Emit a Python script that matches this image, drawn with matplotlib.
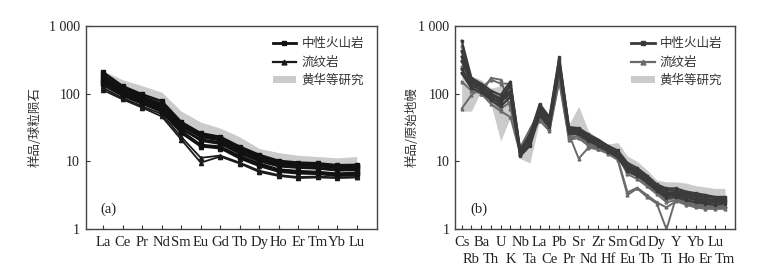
import numpy as np
import matplotlib.pyplot as plt
from matplotlib.lines import Line2D
from matplotlib.patches import Patch
from matplotlib.ticker import FixedLocator, FixedFormatter, NullLocator

# ---- data ----
ree = ['La', 'Ce', 'Pr', 'Nd', 'Sm', 'Eu', 'Gd', 'Tb', 'Dy', 'Ho', 'Er', 'Tm', 'Yb', 'Lu']

# chondrite normalised REE, intermediate volcanics
ree_inter = [
    [205, 128, 97, 77, 38, 26, 23, 16.5, 12.5, 10.2, 9.6, 9.4, 8.8, 8.9],
    [185, 120, 90, 70, 35, 24.5, 22, 15.5, 11.8, 9.8, 9.2, 9.0, 8.4, 8.5],
    [170, 112, 84, 66, 33, 23, 20.5, 14.5, 11.2, 9.3, 8.8, 8.6, 8.0, 8.1],
    [160, 105, 80, 62, 30, 21, 19, 13.5, 10.5, 8.8, 8.3, 8.0, 7.5, 7.6],
    [150, 100, 75, 57, 28, 17.5, 16.5, 12, 9.3, 7.6, 7.2, 7.0, 6.6, 6.8],
    [140, 95, 72, 54, 27, 17, 16, 11.5, 8.9, 7.3, 6.9, 6.7, 6.3, 6.5],
]
# rhyolites
ree_rhy = [
    [130, 92, 70, 55, 26, 16.5, 15.5, 11, 8.5, 7.0, 6.6, 6.5, 6.1, 6.2],
    [120, 86, 65, 50, 23, 11.3, 12.2, 9.6, 7.3, 6.3, 5.9, 6.0, 5.8, 5.9],
    [112, 82, 62, 46, 21, 9.6, 11.8, 9.3, 7.0, 6.1, 5.7, 5.8, 5.7, 5.8],
    [145, 98, 76, 60, 31, 20, 18, 13, 10, 8.4, 8.0, 7.8, 7.3, 7.4],
]
# range of Huang Hua et al.
ree_band_hi = [215, 160, 130, 105, 55, 38, 31, 23, 15.5, 13.5, 12.3, 11.8, 11.3, 11.8]
ree_band_lo = [160, 110, 85, 68, 33, 23, 20, 14.5, 11, 9.2, 8.8, 8.6, 8.0, 8.2]

trace = ['Cs', 'Rb', 'Ba', 'Th', 'U', 'K', 'Nb', 'Ta', 'La', 'Ce', 'Pb', 'Pr', 'Sr', 'Nd',
         'Zr', 'Hf', 'Sm', 'Eu', 'Gd', 'Tb', 'Dy', 'Ti', 'Y', 'Ho', 'Yb', 'Er', 'Lu', 'Tm']

# primitive mantle normalised trace elements
tr_inter = [
    [600, 170, 140, 110, 95, 150, 14, 25, 70, 45, 340, 32, 31, 25, 21, 17, 14.5, 9.5, 8.0, 6.2, 4.6, 4.0, 4.0, 3.6, 3.4, 3.2, 3.0, 3.0],
    [420, 150, 130, 100, 85, 130, 13, 22, 62, 40, 300, 30, 29, 23, 20, 16, 13.5, 8.8, 7.5, 5.8, 4.3, 3.8, 3.7, 3.4, 3.2, 3.0, 2.9, 2.9],
    [300, 140, 125, 95, 80, 110, 13.5, 20, 58, 38, 280, 28, 28, 22, 19, 15.5, 13, 8.3, 7.0, 5.5, 4.1, 3.5, 3.5, 3.2, 3.0, 2.8, 2.7, 2.7],
    [230, 130, 115, 85, 75, 100, 12.5, 18, 52, 35, 250, 27, 26, 21, 18, 14.5, 12, 7.8, 6.6, 5.2, 3.9, 3.3, 3.3, 3.0, 2.8, 2.7, 2.6, 2.6],
    [350, 160, 135, 90, 70, 140, 15, 24, 66, 42, 320, 31, 30, 24, 20, 15.5, 12.5, 8.0, 6.8, 5.3, 3.9, 3.1, 3.2, 2.9, 2.7, 2.5, 2.5, 2.5],
    [200, 120, 105, 80, 65, 90, 12, 17, 48, 32, 220, 26, 25, 20, 17, 14, 11.5, 7.2, 6.2, 4.9, 3.7, 2.9, 3.0, 2.7, 2.5, 2.4, 2.3, 2.4],
]
tr_rhy = [
    [150, 110, 100, 170, 160, 60, 16, 30, 55, 35, 180, 25, 11, 16, 15, 13, 10.5, 3.2, 4.0, 3.0, 2.4, 1.0, 3.0, 2.4, 2.2, 2.1, 2.1, 2.1],
    [60, 95, 120, 160, 140, 140, 14, 28, 45, 30, 160, 22, 24, 18, 16, 14, 11, 3.5, 4.1, 3.2, 2.5, 2.1, 2.6, 2.3, 2.1, 2.0, 2.0, 2.0],
    [250, 120, 100, 70, 55, 45, 13, 24, 40, 28, 150, 21, 22, 17, 15.5, 13.5, 12, 6.5, 5.5, 4.3, 3.3, 2.5, 2.7, 2.5, 2.3, 2.2, 2.2, 2.2],
    [500, 150, 110, 80, 60, 75, 13, 26, 48, 30, 200, 23, 27, 19, 17, 14.5, 12.5, 7.0, 6.0, 4.6, 3.5, 2.7, 2.9, 2.6, 2.4, 2.3, 2.2, 2.2],
]
tr_band_hi = [350, 180, 160, 120, 130, 140, 16, 20, 65, 45, 250, 35, 65, 28, 22, 18, 19, 12, 10, 7.5, 5.3, 5.0, 5.0, 4.8, 4.4, 4.2, 4.0, 4.0]
tr_band_lo = [55, 55, 110, 70, 20, 45, 11, 9.5, 40, 30, 140, 22, 22, 18, 15, 13, 12, 7.5, 6.5, 5.0, 3.6, 3.0, 3.0, 2.8, 2.6, 2.5, 2.4, 2.4]

legend_names = ['中性火山岩', '流纹岩', '黄华等研究']
ytick_vals = [1, 10, 100, 1000]
ytick_text = ['1', '10', '100', '1 000']

SERIF = 'Liberation Serif'
CJK = ['Noto Sans CJK SC', 'DejaVu Sans']
BAND = '#cbcbcb'


def style_axes(ax, ylabel, label_x):
    ax.set_yscale('log')
    ax.set_ylim(1, 1000)
    ax.yaxis.set_major_locator(FixedLocator(ytick_vals))
    ax.yaxis.set_major_formatter(FixedFormatter(ytick_text))
    ax.yaxis.set_minor_locator(NullLocator())
    ax.tick_params(axis='both', which='both', direction='in', length=3,
                   width=0.8, colors='#333333', labelcolor='#222222')
    ax.tick_params(axis='y', pad=4, labelsize=10)
    for lbl in ax.get_yticklabels():
        lbl.set_family(SERIF)
    for s in ax.spines.values():
        s.set_color('#444444')
        s.set_linewidth(1.0)
    ax.set_ylabel(ylabel, family=CJK, fontsize=9, color='#333333')
    ax.yaxis.set_label_coords(label_x, 0.5)


def add_legend(ax, inter_col, rhy_col):
    handles = [
        Line2D([], [], color=inter_col, lw=2.0, marker='s', ms=3.5),
        Line2D([], [], color=rhy_col, lw=1.6, marker='^', ms=3.5),
        Patch(facecolor=BAND, edgecolor='none'),
    ]
    leg = ax.legend(handles, legend_names, loc='upper right', frameon=False,
                    prop={'family': CJK, 'size': 9}, handlelength=1.9,
                    handleheight=0.5, labelspacing=0.42, handletextpad=0.4,
                    borderaxespad=0.3, bbox_to_anchor=(0.985, 0.985))
    for t in leg.get_texts():
        t.set_color('#333333')


fig = plt.figure(figsize=(7.57, 2.73), dpi=100)

# (a) REE pattern
ax1 = fig.add_axes([0.113, 0.160, 0.385, 0.746])
x1 = np.arange(len(ree))
ax1.fill_between(x1, ree_band_lo, ree_band_hi, color=BAND, lw=0, zorder=1)
for row in ree_rhy:
    ax1.plot(x1, row, color='#1a1a1a', lw=1.3, marker='^', ms=3, zorder=2)
for row in ree_inter:
    ax1.plot(x1, row, color='#111111', lw=1.8, marker='s', ms=3, zorder=3)
ax1.set_xlim(-0.91, len(ree) - 1 + 1.04)
ax1.set_xticks(x1)
ax1.set_xticklabels(ree, family=SERIF, fontsize=10.5)
ax1.tick_params(axis='x', pad=5)
style_axes(ax1, '样品/球粒陨石', -0.15)
add_legend(ax1, '#111111', '#1a1a1a')
ax1.text(0.05, 0.10, '(a)', transform=ax1.transAxes, family=SERIF,
         fontsize=10.5, va='center', color='#222222')

# (b) trace element spidergram
ax2 = fig.add_axes([0.601, 0.160, 0.370, 0.746])
x2 = np.arange(len(trace))
ax2.fill_between(x2, tr_band_lo, tr_band_hi, color=BAND, lw=0, zorder=1)
for row in tr_rhy:
    ax2.plot(x2, row, color='#6a6a6a', lw=1.4, marker='^', ms=2, zorder=2)
for row in tr_inter:
    ax2.plot(x2, row, color='#3a3a3a', lw=1.6, marker='s', ms=2, zorder=3)
ax2.set_xlim(-0.69, len(trace) - 1 + 1.03)
# alternate labels on two rows: even on major ticks, odd on minor ticks
ax2.xaxis.set_major_locator(FixedLocator(x2[::2]))
ax2.xaxis.set_major_formatter(FixedFormatter(trace[::2]))
ax2.xaxis.set_minor_locator(FixedLocator(x2[1::2]))
ax2.xaxis.set_minor_formatter(FixedFormatter(trace[1::2]))
style_axes(ax2, '样品/原始地幔', -0.13)
ax2.tick_params(axis='x', which='major', pad=5, labelsize=10.5)
ax2.tick_params(axis='x', which='minor', pad=17, labelsize=10.5)
for lbl in ax2.get_xticklabels(which='both'):
    lbl.set_family(SERIF)
add_legend(ax2, '#3a3a3a', '#6a6a6a')
ax2.text(0.054, 0.10, '(b)', transform=ax2.transAxes, family=SERIF,
         fontsize=10.5, va='center', color='#222222')

fig.savefig('out.png', dpi=100)
